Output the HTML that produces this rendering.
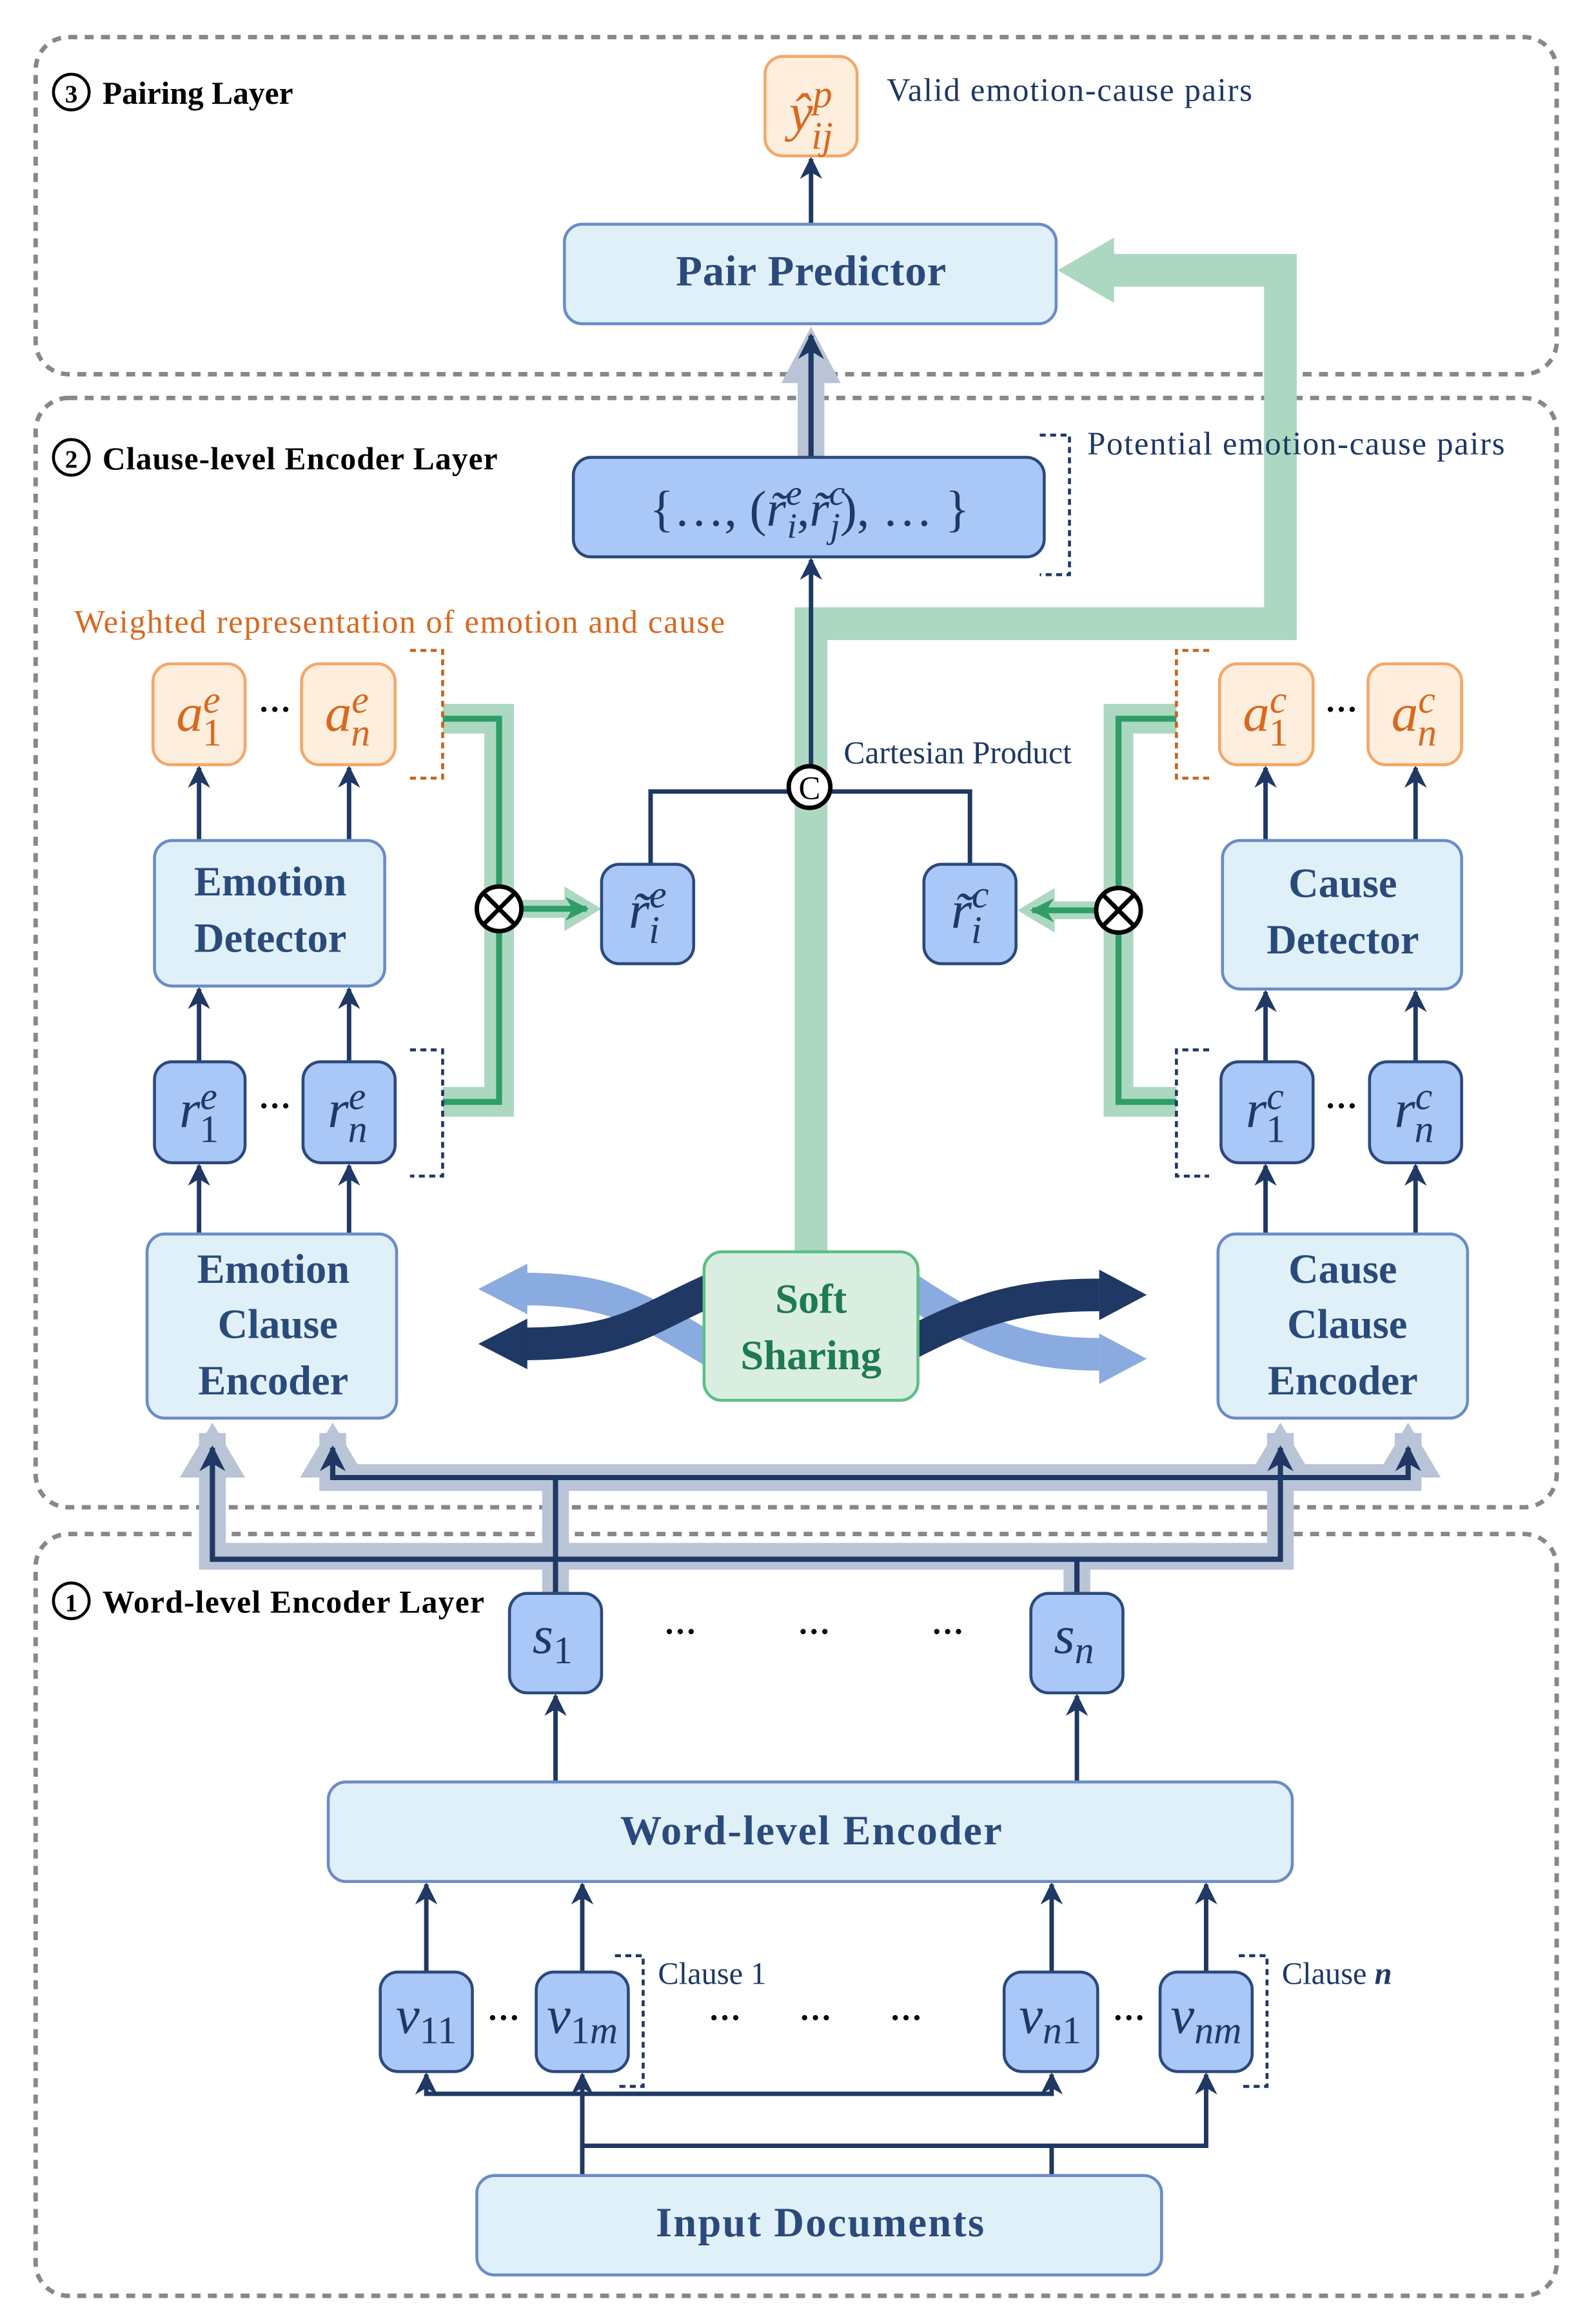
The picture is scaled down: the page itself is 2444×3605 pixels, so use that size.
<!DOCTYPE html>
<html><head><meta charset="utf-8"><style>
html,body{margin:0;padding:0;background:#fff}
svg{display:block}
text{font-family:"Liberation Serif","DejaVu Serif",serif}
.b{font-weight:bold}
.m{font-style:italic}
</style></head><body>
<svg width="2444" height="3605" viewBox="0 0 1061 1565" preserveAspectRatio="none" xmlns="http://www.w3.org/2000/svg">
<defs>
<marker id="ah" viewBox="0 0 10 10" refX="9" refY="5" markerWidth="5" markerHeight="5" orient="auto-start-reverse" markerUnits="strokeWidth"><path d="M0,0 L10,5 L0,10 L3,5z" fill="#1f3864"/></marker>
<marker id="ag" viewBox="0 0 10 10" refX="9" refY="5" markerWidth="4" markerHeight="4" orient="auto" markerUnits="strokeWidth"><path d="M0,0 L10,5 L0,10 L3,5z" fill="#2e9e66"/></marker>
</defs>
<g fill="none" stroke="#888" stroke-width="3" stroke-dasharray="6,5">
<rect x="24" y="25" width="1024" height="227" rx="22"/>
<rect x="24" y="268" width="1024" height="747" rx="22"/>
<rect x="24" y="1033" width="1024" height="513" rx="22"/>
</g>
<g class="b" font-size="21.5" fill="#000">
<circle cx="48" cy="62" r="12" fill="none" stroke="#000" stroke-width="2"/><text x="48" y="69" text-anchor="middle" font-size="17">3</text><text x="69" y="70">Pairing Layer</text>
<circle cx="48" cy="308" r="12" fill="none" stroke="#000" stroke-width="2"/><text x="48" y="315" text-anchor="middle" font-size="17">2</text><text x="69" y="316" textLength="266">Clause-level Encoder Layer</text>
<circle cx="48" cy="1078" r="12" fill="none" stroke="#000" stroke-width="2"/><text x="48" y="1085" text-anchor="middle" font-size="17">1</text><text x="69" y="1086" textLength="257">Word-level Encoder Layer</text>
</g>
<g fill="none" stroke="#b9c5d6" stroke-width="18">
<path d="M143,965 V1048 H862 V965"/>
<path d="M224,965 V995 H948 V965"/>
<path d="M374,1073 V995"/>
<path d="M725,1073 V1048"/>
<path d="M546,308 V240"/>
</g>
<g fill="#b9c5d6">
<polygon points="121,995 143,958 165,995"/><polygon points="202,995 224,958 246,995"/>
<polygon points="840,995 862,958 884,995"/><polygon points="926,995 948,958 970,995"/>
<polygon points="526,258 546,220 566,258"/>
</g>
<g fill="none" stroke="#1f3864" stroke-width="3.5">
<path d="M143,975 V1050 H862 V975" marker-end="url(#ah)"/>
<path d="M143,1050 V975" marker-end="url(#ah)"/>
<path d="M224,975 V995 H948 V975" marker-end="url(#ah)"/>
<path d="M224,995 V975" marker-end="url(#ah)"/>
<path d="M374,1073 V995"/><path d="M725,1073 V1050"/>
<path d="M546,308 V226" marker-end="url(#ah)"/>
</g>
<path d="M546,843 V420 H862 V182 H745" fill="none" stroke="#acd8c1" stroke-width="22"/>
<polygon points="712,182 750,160 750,204" fill="#acd8c1"/>
<path d="M298,484 H336 V742 H298" fill="none" stroke="#acd8c1" stroke-width="20"/>
<path d="M298,484 H336 V742 H298" fill="none" stroke="#2e9e66" stroke-width="4"/>
<path d="M792,484 H753 V742 H792" fill="none" stroke="#acd8c1" stroke-width="20"/>
<path d="M792,484 H753 V742 H792" fill="none" stroke="#2e9e66" stroke-width="4"/>
<path d="M350,612 H385" stroke="#acd8c1" stroke-width="12"/><polygon points="380,597 405,612 380,627" fill="#acd8c1"/>
<path d="M350,612 H395" stroke="#2e9e66" stroke-width="4" marker-end="url(#ag)"/>
<path d="M740,613 H705" stroke="#acd8c1" stroke-width="12"/><polygon points="710,598 685,613 710,628" fill="#acd8c1"/>
<path d="M740,613 H695" stroke="#2e9e66" stroke-width="4" marker-end="url(#ag)"/>
<g stroke="#000" stroke-width="3" fill="#fff">
<circle cx="336" cy="612" r="15"/><path d="M326,602 L346,622 M346,602 L326,622"/>
<circle cx="753" cy="613" r="15"/><path d="M743,603 L763,623 M763,603 L743,623"/>
</g>
<path d="M438,582 V533 H653 V582" fill="none" stroke="#1f3864" stroke-width="3"/>
<path d="M546,517 V377" fill="none" stroke="#1f3864" stroke-width="3" marker-end="url(#ah)"/>
<circle cx="545" cy="530" r="14" fill="#fff" stroke="#000" stroke-width="3"/>
<text x="545" y="538" text-anchor="middle" font-size="22">C</text>
<text x="568" y="514" font-size="21.5" fill="#1f3864">Cartesian Product</text>
<g stroke="#1f3864" stroke-width="3" fill="none" marker-end="url(#ah)">
<path d="M546,150 V107"/>
<path d="M134,566 V517"/><path d="M235,566 V517"/>
<path d="M134,715 V666"/><path d="M235,715 V666"/>
<path d="M134,831 V785"/><path d="M235,831 V785"/>
<path d="M852,566 V517"/><path d="M953,566 V517"/>
<path d="M852,715 V668"/><path d="M953,715 V668"/>
<path d="M852,831 V785"/><path d="M953,831 V785"/>
<path d="M374,1200 V1142"/><path d="M725,1200 V1142"/>
<path d="M287,1328 V1269"/><path d="M392,1328 V1269"/><path d="M708,1328 V1269"/><path d="M812,1328 V1269"/>
</g>
<g stroke="#1f3864" stroke-width="3" fill="none">
<path d="M392,1465 V1410 H287 V1397" marker-end="url(#ah)"/>
<path d="M392,1410 H708 V1397" marker-end="url(#ah)"/>
<path d="M708,1465 V1445 H392"/>
<path d="M392,1445 V1397" marker-end="url(#ah)"/>
<path d="M708,1445 H812 V1397" marker-end="url(#ah)"/>
</g>
<g fill="none" stroke-width="22">
<path d="M480,910 C430,880 410,868 350,868" stroke="#8aabe0"/>
<path d="M612,868 C660,900 690,912 740,912" stroke="#8aabe0"/>
<path d="M480,868 C430,890 420,905 350,905" stroke="#1f3864"/>
<path d="M612,905 C660,880 690,872 740,872" stroke="#1f3864"/>
</g>
<polygon points="322,868 355,851 355,885" fill="#8aabe0"/>
<polygon points="322,905 355,888 355,922" fill="#1f3864"/>
<polygon points="772,872 740,855 740,889" fill="#1f3864"/>
<polygon points="772,915 740,898 740,932" fill="#8aabe0"/>
<g stroke-width="2">
<rect x="515" y="38" width="62" height="67" rx="12" fill="#fdeedd" stroke="#f4a868"/>
<rect x="380" y="151" width="331" height="67" rx="12" fill="#e0f0f8" stroke="#6a8cc8"/>
<rect x="386" y="308" width="317" height="67" rx="12" fill="#a9c8f7" stroke="#2b4a7c"/>
<rect x="103" y="447" width="62" height="68" rx="12" fill="#fdeedd" stroke="#f4a868"/>
<rect x="203" y="447" width="63" height="68" rx="12" fill="#fdeedd" stroke="#f4a868"/>
<rect x="821" y="447" width="63" height="68" rx="12" fill="#fdeedd" stroke="#f4a868"/>
<rect x="921" y="447" width="63" height="68" rx="12" fill="#fdeedd" stroke="#f4a868"/>
<rect x="104" y="566" width="155" height="98" rx="12" fill="#e0f0f8" stroke="#6a8cc8"/>
<rect x="823" y="566" width="161" height="100" rx="12" fill="#e0f0f8" stroke="#6a8cc8"/>
<rect x="104" y="715" width="61" height="68" rx="12" fill="#a9c8f7" stroke="#2b4a7c"/>
<rect x="204" y="715" width="62" height="68" rx="12" fill="#a9c8f7" stroke="#2b4a7c"/>
<rect x="822" y="715" width="62" height="68" rx="12" fill="#a9c8f7" stroke="#2b4a7c"/>
<rect x="922" y="715" width="62" height="68" rx="12" fill="#a9c8f7" stroke="#2b4a7c"/>
<rect x="405" y="582" width="62" height="67" rx="12" fill="#a9c8f7" stroke="#2b4a7c"/>
<rect x="622" y="582" width="62" height="67" rx="12" fill="#a9c8f7" stroke="#2b4a7c"/>
<rect x="99" y="831" width="168" height="124" rx="12" fill="#e0f0f8" stroke="#6a8cc8"/>
<rect x="820" y="831" width="168" height="124" rx="12" fill="#e0f0f8" stroke="#6a8cc8"/>
<rect x="474" y="843" width="144" height="100" rx="12" fill="#d9eee0" stroke="#5cbf85"/>
<rect x="343" y="1073" width="62" height="67" rx="12" fill="#a9c8f7" stroke="#2b4a7c"/>
<rect x="694" y="1073" width="62" height="67" rx="12" fill="#a9c8f7" stroke="#2b4a7c"/>
<rect x="221" y="1200" width="649" height="67" rx="12" fill="#e0f0f8" stroke="#6a8cc8"/>
<rect x="256" y="1328" width="62" height="67" rx="12" fill="#a9c8f7" stroke="#2b4a7c"/>
<rect x="361" y="1328" width="62" height="67" rx="12" fill="#a9c8f7" stroke="#2b4a7c"/>
<rect x="676" y="1328" width="63" height="67" rx="12" fill="#a9c8f7" stroke="#2b4a7c"/>
<rect x="781" y="1328" width="62" height="67" rx="12" fill="#a9c8f7" stroke="#2b4a7c"/>
<rect x="321" y="1465" width="461" height="67" rx="12" fill="#e0f0f8" stroke="#6a8cc8"/>
</g>
<g fill="none" stroke-width="2" stroke-dasharray="4,3">
<path d="M700,293 H720 V387 H700" stroke="#1f3864"/>
<path d="M276,438 H298 V524 H276" stroke="#c8641e"/>
<path d="M276,707 H298 V792 H276" stroke="#1f3864"/>
<path d="M814,438 H792 V524 H814" stroke="#c8641e"/>
<path d="M814,707 H792 V792 H814" stroke="#1f3864"/>
<path d="M414,1317 H433 V1405 H414" stroke="#1f3864"/>
<path d="M834,1317 H853 V1405 H834" stroke="#1f3864"/>
</g>
<g fill="#2b4a7c" class="b" text-anchor="middle">
<text x="546" y="192" font-size="29" textLength="182">Pair Predictor</text>
<text x="182" y="603" font-size="28">Emotion</text><text x="182" y="641" font-size="28">Detector</text>
<text x="904" y="604" font-size="28">Cause</text><text x="904" y="642" font-size="28">Detector</text>
<text x="184" y="864" font-size="28">Emotion</text><text x="187" y="901" font-size="28">Clause</text><text x="184" y="939" font-size="28">Encoder</text>
<text x="904" y="864" font-size="28">Cause</text><text x="907" y="901" font-size="28">Clause</text><text x="904" y="939" font-size="28">Encoder</text>
<text x="546" y="1242" font-size="28" textLength="257">Word-level Encoder</text>
<text x="552" y="1506" font-size="28" textLength="221">Input Documents</text>
<text x="546" y="884" font-size="28" fill="#1e7a50">Soft</text><text x="546" y="922" font-size="28" fill="#1e7a50">Sharing</text>
</g>
<g font-size="22">
<text x="597" y="68" fill="#1f3864" textLength="246">Valid emotion-cause pairs</text>
<text x="732" y="306" fill="#1f3864" textLength="281">Potential emotion-cause pairs</text>
<text x="50" y="426" fill="#d9691f" textLength="438">Weighted representation of emotion and cause</text>
<text x="443" y="1336" fill="#1f3864" font-size="21">Clause 1</text>
<text x="863" y="1336" fill="#1f3864" font-size="21">Clause <tspan class="m b">n</tspan></text>
</g>
<g class="m" font-size="36" text-anchor="middle">
<text x="546" y="88" fill="#d9691f">ŷ<tspan font-size="26" dy="-16">p</tspan><tspan font-size="26" dx="-14" dy="28">ij</tspan></text>
<text x="545" y="354" fill="#1f3864" font-style="normal" font-size="34">{…, (<tspan class="m">r̃</tspan><tspan class="m" font-size="24" dy="-14">e</tspan><tspan class="m" font-size="24" dx="-10" dy="22">i</tspan><tspan dy="-8">,</tspan><tspan class="m">r̃</tspan><tspan class="m" font-size="24" dy="-14">c</tspan><tspan class="m" font-size="24" dx="-10" dy="22">j</tspan><tspan dy="-8">), … }</tspan></text>
<g fill="#d9691f">
<text x="134" y="492">a<tspan font-size="26" dy="-12">e</tspan><tspan font-size="26" dx="-12" dy="22" font-style="normal">1</tspan></text>
<text x="234" y="492">a<tspan font-size="26" dy="-12">e</tspan><tspan font-size="26" dx="-12" dy="22">n</tspan></text>
<text x="852" y="492">a<tspan font-size="26" dy="-12">c</tspan><tspan font-size="26" dx="-12" dy="22" font-style="normal">1</tspan></text>
<text x="952" y="492">a<tspan font-size="26" dy="-12">c</tspan><tspan font-size="26" dx="-12" dy="22">n</tspan></text>
</g>
<g fill="#1f3864">
<text x="134" y="759">r<tspan font-size="26" dy="-12">e</tspan><tspan font-size="26" dx="-12" dy="22" font-style="normal">1</tspan></text>
<text x="234" y="759">r<tspan font-size="26" dy="-12">e</tspan><tspan font-size="26" dx="-12" dy="22">n</tspan></text>
<text x="852" y="759">r<tspan font-size="26" dy="-12">c</tspan><tspan font-size="26" dx="-12" dy="22" font-style="normal">1</tspan></text>
<text x="952" y="759">r<tspan font-size="26" dy="-12">c</tspan><tspan font-size="26" dx="-12" dy="22">n</tspan></text>
<text x="436" y="625">r̃<tspan font-size="26" dy="-14">e</tspan><tspan font-size="26" dx="-12" dy="24">i</tspan></text>
<text x="653" y="625">r̃<tspan font-size="26" dy="-14">c</tspan><tspan font-size="26" dx="-12" dy="24">i</tspan></text>
<text x="372" y="1113">s<tspan font-size="26" dy="7" font-style="normal">1</tspan></text>
<text x="723" y="1113">s<tspan font-size="26" dy="7">n</tspan></text>
<text x="287" y="1369">v<tspan font-size="26" dy="7" font-style="normal">11</tspan></text>
<text x="392" y="1369">v<tspan font-size="26" dy="7" font-style="normal">1</tspan><tspan font-size="26">m</tspan></text>
<text x="707" y="1369">v<tspan font-size="26" dy="7">n</tspan><tspan font-size="26" font-style="normal">1</tspan></text>
<text x="812" y="1369">v<tspan font-size="26" dy="7">nm</tspan></text>
</g>
</g>
<g font-size="22" font-weight="bold" text-anchor="middle" fill="#000">
<text x="185" y="485">···</text><text x="185" y="752">···</text>
<text x="903" y="485">···</text><text x="903" y="752">···</text>
<text x="458" y="1106">···</text><text x="548" y="1106">···</text><text x="638" y="1106">···</text>
<text x="339" y="1366">···</text><text x="760" y="1366">···</text>
<text x="488" y="1366">···</text><text x="549" y="1366">···</text><text x="610" y="1366">···</text>
</g>
</svg>
</body></html>
